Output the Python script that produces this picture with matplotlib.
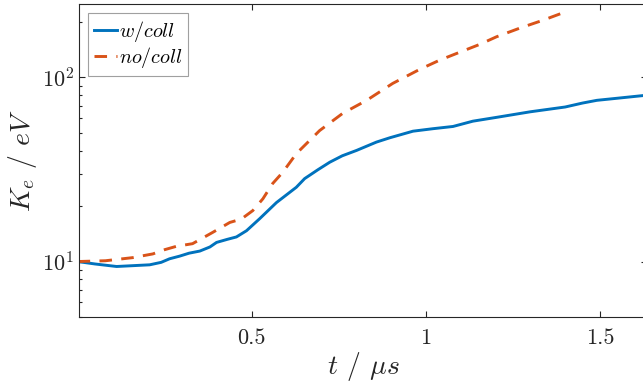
import matplotlib
matplotlib.use('Agg')
import matplotlib.pyplot as plt
from matplotlib.ticker import LogLocator, NullFormatter

# time in microseconds, kinetic energy in eV
t_coll = [0.0, 0.05, 0.112, 0.16, 0.207, 0.24, 0.264, 0.293, 0.32, 0.351, 0.38, 0.399,
          0.43, 0.456, 0.485, 0.523, 0.571, 0.628, 0.652, 0.69, 0.724, 0.76, 0.801,
          0.858, 0.897, 0.963, 1.02, 1.078, 1.135, 1.207, 1.3, 1.4, 1.45, 1.491, 1.55, 1.635]
ke_coll = [10.0, 9.7, 9.4, 9.5, 9.6, 9.9, 10.35, 10.7, 11.1, 11.4, 12.0, 12.7,
           13.2, 13.6, 14.7, 17.1, 20.9, 25.3, 28.2, 31.5, 34.6, 37.5, 40.1,
           44.5, 47.0, 51.0, 52.6, 54.1, 57.8, 60.8, 65.0, 69.0, 72.5, 75.0, 77.0, 80.0]

t_nocoll = [0.0, 0.08, 0.158, 0.216, 0.25, 0.284, 0.33, 0.388, 0.437, 0.47, 0.503, 0.532,
            0.56, 0.589, 0.628, 0.647, 0.695, 0.761, 0.83, 0.905, 0.983, 1.04, 1.098,
            1.155, 1.203, 1.27, 1.336, 1.391]
ke_nocoll = [10.0, 10.1, 10.5, 11.0, 11.6, 12.1, 12.5, 14.4, 16.3, 17.0, 18.9, 21.9,
             26.5, 30.5, 38.5, 41.8, 51.4, 63.7, 75.0, 92.7, 110.6, 124.0, 137.0,
             151.0, 166.0, 185.0, 204.0, 223.0]

plt.rcParams['font.family'] = 'cmr10'
plt.rcParams['mathtext.fontset'] = 'cm'
plt.rcParams['axes.formatter.use_mathtext'] = True

fig = plt.figure(figsize=(6.43, 3.87), dpi=100)
# right spine sits just past the image edge, as in the original
ax = fig.add_axes([79 / 643, 70 / 387, 568 / 643, 313 / 387])

ax.plot(t_coll, ke_coll, color='#0072BD', lw=2.1, label=r'$w/coll$')
ax.plot(t_nocoll, ke_nocoll, color='#D95319', lw=2.1, dashes=(4.3, 3.2), label=r'$no/coll$')

ax.set_yscale('log')
ax.set_xlim(0.004, 1.635)
ax.set_ylim(5, 250)
ax.set_xticks([0.5, 1, 1.5], ['0.5', '1', '1.5'])
ax.yaxis.set_minor_locator(LogLocator(base=10, subs=range(2, 10)))
ax.yaxis.set_minor_formatter(NullFormatter())

axc = '#262626'
for s in ax.spines.values():
    s.set_color(axc)
    s.set_linewidth(0.8)
ax.tick_params(which='both', direction='in', top=True, right=True, colors=axc,
               labelsize=16, width=0.8)
ax.tick_params(which='major', length=4.3)
ax.tick_params(which='minor', length=2.2)
ax.tick_params(axis='x', pad=8)

ax.set_xlabel(r'$t$ / $\mu s$', fontsize=20, color=axc, labelpad=2)
ax.set_ylabel(r'$K_e$ / $eV$', fontsize=20, color=axc, labelpad=2)

leg = ax.legend(loc='upper left', fontsize=14.5, fancybox=False, handlelength=1.13,
                handletextpad=0.1, borderpad=0.3, labelspacing=0.05, borderaxespad=0,
                bbox_to_anchor=(9 / 568, 1 - 9 / 313))
leg.get_frame().set_edgecolor('#888888')
leg.get_frame().set_linewidth(0.8)

fig.savefig('out.png', dpi=100)
